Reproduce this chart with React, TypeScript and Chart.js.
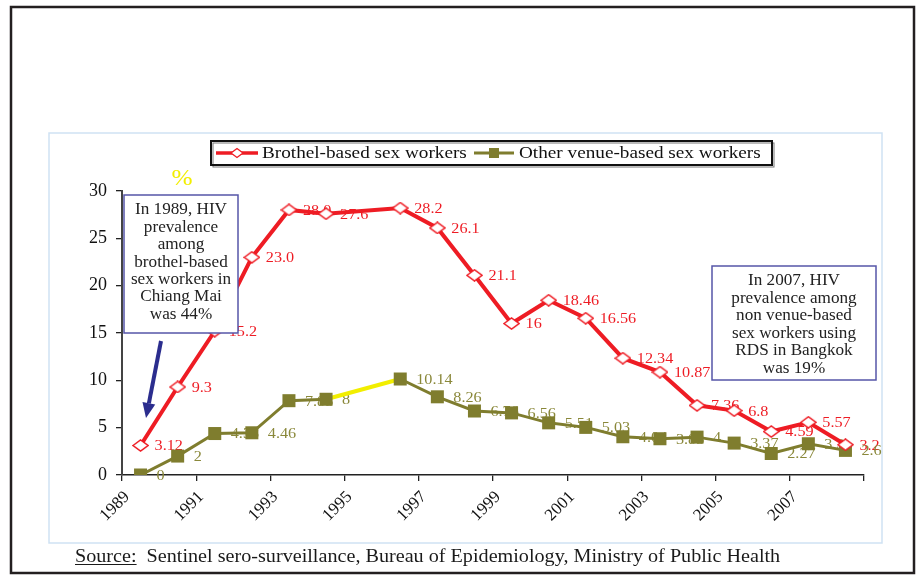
import React, { useEffect, useRef } from 'react';
import { Chart, registerables } from 'chart.js';

Chart.register(...registerables);

const years = [1989, 1990, 1991, 1992, 1993, 1994, 1995, 1996, 1997, 1998, 1999, 2000, 2001, 2002, 2003, 2004, 2005, 2006, 2007, 2008];
const brothel = [3.12, 9.3, 15.2, 23.0, 28.0, 27.6, null, 28.2, 26.1, 21.1, 16, 18.46, 16.56, 12.34, 10.87, 7.36, 6.8, 4.59, 5.57, 3.2];
const brothelLabels = ['3.12', '9.3', '15.2', '23.0', '28.0', '27.6', '', '28.2', '26.1', '21.1', '16', '18.46', '16.56', '12.34', '10.87', '7.36', '6.8', '4.59', '5.57', '3.2'];
const other = [0, 2, 4.38, 4.46, 7.85, 8, null, 10.14, 8.26, 6.76, 6.56, 5.51, 5.03, 4.04, 3.83, 4, 3.37, 2.27, 3.3, 2.6];
const otherLabels = ['0', '2', '4.38', '4.46', '7.85', '8', '', '10.14', '8.26', '6.76', '6.56', '5.51', '5.03', '4.04', '3.83', '4', '3.37', '2.27', '3.3', '2.6'];
const seriesNames = ['Brothel-based sex workers', 'Other venue-based sex workers'];
const yearTicks = [1989, 1991, 1993, 1995, 1997, 1999, 2001, 2003, 2005, 2007];
const leftNote = ['In 1989, HIV', 'prevalence', 'among', 'brothel-based', 'sex workers in', 'Chiang Mai', 'was 44%'];
const rightNote = ['In 2007, HIV', 'prevalence among', 'non venue-based', 'sex workers using', 'RDS in Bangkok', 'was 19%'];
const sourceLabel = 'Source:';
const sourceText = 'Sentinel sero-surveillance, Bureau of Epidemiology, Ministry of Public Health';

const RED = '#ee1c24';
const OLIVE = '#7f7d2e';
const OLIVE_TEXT = '#8a883a';
const YELLOW = '#f2ee00';
const SERIF = '"Liberation Serif", "Times New Roman", serif';

function makeDiamond(): HTMLCanvasElement {
  const c = document.createElement('canvas');
  c.width = 17;
  c.height = 13;
  const g = c.getContext('2d')!;
  g.beginPath();
  g.moveTo(1, 6.5);
  g.lineTo(8.5, 1);
  g.lineTo(16, 6.5);
  g.lineTo(8.5, 12);
  g.closePath();
  g.fillStyle = '#ffffff';
  g.fill();
  g.strokeStyle = RED;
  g.lineWidth = 1.5;
  g.stroke();
  return c;
}

function sText(ctx: CanvasRenderingContext2D, text: string, x: number, y: number, sx: number, align: CanvasTextAlign) {
  ctx.save();
  ctx.translate(x, y);
  ctx.scale(sx, 1);
  ctx.textAlign = align;
  ctx.fillText(text, 0, 0);
  ctx.restore();
}

function drawNote(ctx: CanvasRenderingContext2D, x: number, y: number, w: number, h: number, lines: string[], firstY: number, step: number) {
  ctx.save();
  ctx.fillStyle = '#ffffff';
  ctx.fillRect(x, y, w, h);
  ctx.strokeStyle = '#5656a8';
  ctx.lineWidth = 1.5;
  ctx.strokeRect(x, y, w, h);
  ctx.fillStyle = '#222222';
  ctx.font = `17px ${SERIF}`;
  ctx.textBaseline = 'middle';
  lines.forEach((l, i) => sText(ctx, l, x + w / 2, firstY + i * step, 1.01, 'center'));
  ctx.restore();
}

const decorPlugin = {
  id: 'decor',
  beforeDraw(chart: any) {
    const ctx: CanvasRenderingContext2D = chart.ctx;
    ctx.save();
    ctx.fillStyle = '#ffffff';
    ctx.fillRect(0, 0, chart.width, chart.height);
    ctx.strokeStyle = '#231f20';
    ctx.lineWidth = 2.5;
    ctx.strokeRect(11, 7, 903, 566);
    ctx.strokeStyle = '#cfe2f3';
    ctx.lineWidth = 1.5;
    ctx.strokeRect(49, 133, 833, 410);
    ctx.restore();
  },
  beforeDatasetsDraw(chart: any) {
    const ctx: CanvasRenderingContext2D = chart.ctx;
    ctx.save();
    ctx.font = `15px ${SERIF}`;
    ctx.textBaseline = 'middle';
    const sets = [
      { labels: brothelLabels, color: RED, dx: 14 },
      { labels: otherLabels, color: OLIVE_TEXT, dx: 16 },
    ];
    sets.forEach((s, di) => {
      const meta = chart.getDatasetMeta(di);
      meta.data.forEach((pt: any, i: number) => {
        if (!s.labels[i] || pt.skip) return;
        ctx.fillStyle = s.color;
        sText(ctx, s.labels[i], pt.x + s.dx, pt.y + 1, 1.08, 'left');
      });
    });
    ctx.restore();
  },
  afterDraw(chart: any) {
    const ctx: CanvasRenderingContext2D = chart.ctx;
    ctx.save();
    // legend
    ctx.fillStyle = '#ffffff';
    ctx.fillRect(211, 141, 561, 24);
    ctx.strokeStyle = '#777777';
    ctx.lineWidth = 1;
    ctx.strokeRect(213, 143, 561, 24);
    ctx.strokeStyle = '#111111';
    ctx.lineWidth = 2;
    ctx.strokeRect(211, 141, 561, 24);
    const ly = 153;
    ctx.strokeStyle = RED;
    ctx.lineWidth = 3.5;
    ctx.beginPath();
    ctx.moveTo(216, ly);
    ctx.lineTo(258, ly);
    ctx.stroke();
    ctx.beginPath();
    ctx.moveTo(231, ly);
    ctx.lineTo(237, ly - 4.5);
    ctx.lineTo(243, ly);
    ctx.lineTo(237, ly + 4.5);
    ctx.closePath();
    ctx.fillStyle = '#ffffff';
    ctx.fill();
    ctx.lineWidth = 1.3;
    ctx.stroke();
    ctx.strokeStyle = OLIVE;
    ctx.lineWidth = 3;
    ctx.beginPath();
    ctx.moveTo(474, ly);
    ctx.lineTo(514, ly);
    ctx.stroke();
    ctx.fillStyle = OLIVE;
    ctx.fillRect(489, ly - 5, 10, 10);
    ctx.fillStyle = '#111111';
    ctx.font = `17px ${SERIF}`;
    ctx.textBaseline = 'middle';
    sText(ctx, seriesNames[0], 262, ly + 1, 1.13, 'left');
    sText(ctx, seriesNames[1], 519, ly + 1, 1.13, 'left');

    // percent sign
    ctx.fillStyle = YELLOW;
    ctx.font = `23px ${SERIF}`;
    sText(ctx, '%', 182, 179, 1.1, 'center');

    // notes
    drawNote(ctx, 124, 195, 114, 138, leftNote, 210, 17.4);
    drawNote(ctx, 712, 266, 164, 114, rightNote, 281, 17.5);

    // arrow
    const x0 = 161, y0 = 341, x1 = 146, y1 = 418;
    const ang = Math.atan2(y1 - y0, x1 - x0);
    const hl = 15, hw = 6.5;
    const bx = x1 - Math.cos(ang) * hl, by = y1 - Math.sin(ang) * hl;
    ctx.strokeStyle = '#2b2d8e';
    ctx.fillStyle = '#2b2d8e';
    ctx.lineWidth = 4;
    ctx.beginPath();
    ctx.moveTo(x0, y0);
    ctx.lineTo(bx, by);
    ctx.stroke();
    ctx.beginPath();
    ctx.moveTo(x1, y1);
    ctx.lineTo(bx + Math.sin(ang) * hw, by - Math.cos(ang) * hw);
    ctx.lineTo(bx - Math.sin(ang) * hw, by + Math.cos(ang) * hw);
    ctx.closePath();
    ctx.fill();

    // source
    ctx.fillStyle = '#1a1a1a';
    ctx.font = `18px ${SERIF}`;
    ctx.textBaseline = 'alphabetic';
    const sx = 75, sy = 562, st = 1.12;
    sText(ctx, sourceLabel, sx, sy, st, 'left');
    const sw = ctx.measureText(sourceLabel).width * st;
    ctx.fillRect(sx, sy + 2, sw, 1);
    sText(ctx, sourceText, sx + sw + 10, sy, st, 'left');
    ctx.restore();
  },
};

export default function App() {
  const ref = useRef<HTMLCanvasElement | null>(null);
  useEffect(() => {
    if (!ref.current) return;
    const diamond = makeDiamond();
    const chart = new Chart(ref.current, {
      type: 'line',
      data: {
        datasets: [
          {
            label: seriesNames[0],
            data: years.map((yr, i) => ({ x: yr + 0.5, y: brothel[i] })),
            borderColor: RED,
            backgroundColor: '#ffffff',
            borderWidth: 4,
            pointStyle: diamond as any,
            pointRadius: 7,
            spanGaps: true,
            tension: 0,
          },
          {
            label: seriesNames[1],
            data: years.map((yr, i) => ({ x: yr + 0.5, y: other[i] })),
            borderColor: OLIVE,
            backgroundColor: OLIVE,
            borderWidth: 3,
            pointStyle: 'rect',
            pointRadius: 9.2,
            pointBorderWidth: 0,
            spanGaps: true,
            tension: 0,
            segment: {
              borderColor: (c: any) => (c.p0.skip || c.p1.skip ? YELLOW : undefined),
              borderWidth: (c: any) => (c.p0.skip || c.p1.skip ? 4 : undefined),
            },
          },
        ],
      },
      options: {
        responsive: false,
        animation: false,
        events: [],
        layout: { padding: { left: 0, right: 52, top: 191, bottom: 0 } },
        plugins: { legend: { display: false }, tooltip: { enabled: false }, title: { display: false } },
        scales: {
          x: {
            type: 'linear',
            min: 1989,
            max: 2009,
            afterFit: (s: any) => { s.height = 101; },
            afterBuildTicks: (s: any) => {
              s.ticks = [...yearTicks, 2009].map((v) => ({ value: v }));
            },
            ticks: {
              autoSkip: false,
              minRotation: 45,
              maxRotation: 45,
              padding: 6,
              labelOffset: 5,
              color: '#111111',
              font: { family: SERIF, size: 17 },
              callback: (v: any) => (yearTicks.includes(v) ? String(v) : ''),
            },
            grid: { drawOnChartArea: false, drawTicks: true, tickLength: 6, color: '#222222', lineWidth: 1.3 },
            border: { color: '#222222', width: 1.5 },
          },
          y: {
            min: 0,
            max: 30,
            afterFit: (s: any) => { s.width = 122; },
            ticks: {
              stepSize: 5,
              padding: 9,
              color: '#111111',
              font: { family: SERIF, size: 18 },
            },
            grid: { drawOnChartArea: false, drawTicks: true, tickLength: 6, color: '#222222', lineWidth: 1.3 },
            border: { color: '#444444', width: 2 },
          },
        },
      },
      plugins: [decorPlugin],
    });
    return () => chart.destroy();
  }, []);
  return (
    <div style={{ position: 'absolute', left: 0, top: 0, width: 916, height: 576, background: '#fff' }}>
      <canvas ref={ref} width={916} height={576} style={{ display: 'block' }} />
    </div>
  );
}
